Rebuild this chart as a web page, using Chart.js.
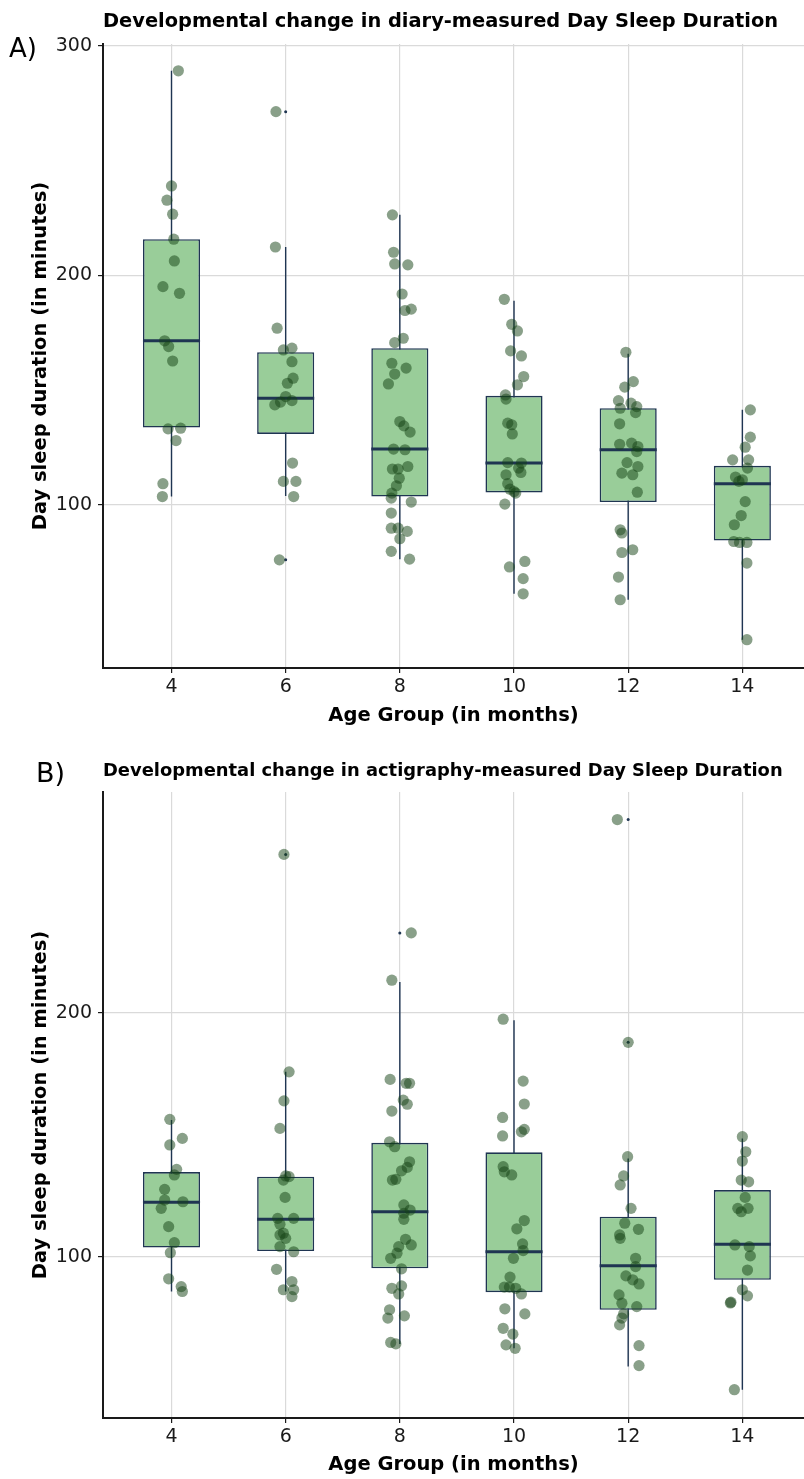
<!DOCTYPE html>
<html>
<head>
<meta charset="utf-8">
<title>Developmental change in Day Sleep Duration</title>
<script src="https://cdn.jsdelivr.net/npm/chart.js@4.4.0/dist/chart.umd.min.js"></script>
<style>
    body { margin: 0; background: #fff; overflow: hidden; }
    canvas { position: absolute; left: 0; }
    #panelA { top: 0; }
    #panelB { top: 730px; }
</style>
</head>
<body>
<canvas id="panelA" width="804" height="730"></canvas>
<canvas id="panelB" width="804" height="749"></canvas>
<script>
// Age groups (months) shown on the x axis
const ageGroups = [4, 6, 8, 10, 12, 14];

// ---- Panel A: diary-measured day sleep (minutes) ----
const diaryValues = [
    [289.2, 239.0, 232.8, 226.7, 215.8, 206.3, 195.1, 192.2, 171.5, 169.0, 162.7, 133.1, 133.4, 128.0, 109.2, 103.6],
    [271.4, 212.4, 177.0, 167.5, 168.3, 162.4, 155.2, 153.0, 147.2, 143.6, 144.8, 145.4, 118.2, 110.2, 110.2, 103.6, 76.0],
    [226.4, 210.1, 205.0, 204.6, 191.9, 184.7, 185.3, 172.6, 170.7, 161.7, 159.6, 157.0, 152.7, 136.3, 134.4, 131.7, 124.3,
     124.0, 115.6, 115.6, 116.7, 111.6, 108.3, 105.1, 102.9, 101.2, 96.4, 89.8, 89.8, 88.4, 85.2, 79.7, 76.3],
    [189.6, 178.7, 175.8, 167.1, 164.9, 155.9, 152.3, 147.9, 146.1, 135.6, 134.9, 130.9, 118.4, 118.2, 116.0, 114.1, 113.1,
     109.2, 106.8, 105.8, 105.1, 100.3, 72.9, 75.3, 67.8, 61.2],
    [166.5, 153.7, 151.3, 145.4, 144.3, 142.1, 142.8, 140.2, 135.3, 126.4, 126.9, 125.4, 123.2, 118.4, 116.7, 113.8, 113.1,
     105.5, 89.1, 87.7, 80.4, 79.2, 68.5, 58.6],
    [141.4, 129.5, 125.1, 119.6, 119.6, 116.0, 112.1, 110.9, 110.2, 101.4, 95.3, 91.3, 84.0, 83.6, 83.6, 74.6, 41.2]
];
// horizontal jitter of each point (age units)
const diaryJitter = [
    [0.12, 0, -0.08, 0.02, 0.04, 0.05, -0.15, 0.14, -0.12, -0.05, 0.02, -0.06, 0.16, 0.08, -0.15, -0.16],
    [-0.17, -0.18, -0.15, -0.04, 0.11, 0.11, 0.13, 0.03, 0, -0.19, -0.09, 0.11, 0.12, -0.04, 0.18, 0.14, -0.11],
    [-0.13, -0.11, -0.09, 0.14, 0.04, 0.09, 0.2, 0.06, -0.09, -0.14, 0.11, -0.09, -0.2, 0, 0.07, 0.18, -0.11,
     0.09, -0.13, -0.03, 0.14, -0.01, -0.06, -0.14, -0.15, 0.2, -0.15, -0.15, -0.03, 0.13, 0, -0.15, 0.17],
    [-0.17, -0.04, 0.06, -0.06, 0.13, 0.17, 0.06, -0.15, -0.14, -0.11, -0.04, -0.03, -0.11, 0.13, 0.08, 0.12, -0.14,
     -0.11, -0.07, 0, 0.03, -0.16, -0.08, 0.19, 0.16, 0.16],
    [-0.04, 0.09, -0.06, -0.17, 0.05, -0.14, 0.15, 0.13, -0.15, -0.15, 0.06, 0.17, 0.15, -0.02, 0.17, -0.11, 0.08,
     0.16, -0.14, -0.11, 0.08, -0.11, -0.17, -0.14],
    [0.14, 0.14, 0.05, -0.17, 0.11, 0.09, -0.12, 0, -0.06, 0.05, -0.02, -0.14, -0.15, -0.05, 0.08, 0.08, 0.08]
];
const diaryQ1 = [133.7, 130.9, 103.6, 105.4, 101.2, 84.4];
const diaryMedian = [171.5, 146.5, 124.3, 118.2, 124.0, 109.2];
const diaryQ3 = [215.8, 166.5, 168.3, 147.5, 142.1, 117.0];
const diaryLow = [103.6, 103.8, 76.3, 61.2, 58.6, 41.2];
const diaryHigh = [289.2, 212.4, 226.4, 189.0, 165.8, 141.4];
const diaryOutlierAges = [6, 6];
const diaryOutlierValues = [271.4, 76.0];
const diaryYTicks = [100, 200, 300];

// ---- Panel B: actigraphy-measured day sleep (minutes) ----
const actiValues = [
    [156.3, 148.5, 145.8, 135.8, 133.5, 127.6, 123.2, 122.5, 119.8, 112.3, 105.7, 101.6, 90.9, 87.7, 85.7],
    [265.0, 175.8, 163.9, 152.6, 133.1, 132.8, 131.4, 124.3, 115.7, 115.7, 113.3, 109.6, 108.9, 107.5, 104.1, 102.0,
     94.8, 89.8, 86.4, 86.4, 83.6],
    [232.8, 213.4, 172.7, 171.1, 171.1, 164.2, 162.5, 159.7, 147.1, 145.1, 138.9, 136.6, 135.2, 131.7, 131.4, 121.2,
     119.1, 117.8, 115.3, 107.1, 104.8, 104.1, 101.4, 99.3, 95.0, 87.0, 88.0, 84.7, 78.2, 74.8, 75.7, 64.8, 64.2],
    [197.4, 172.0, 162.6, 157.1, 152.2, 151.2, 149.5, 136.9, 134.8, 133.5, 114.8, 111.4, 105.2, 102.5, 99.3, 91.6,
     87.5, 87.5, 87.0, 84.7, 78.6, 76.5, 70.6, 68.2, 63.8, 62.4],
    [279.3, 187.9, 141.0, 133.1, 129.4, 119.8, 113.7, 111.2, 108.9, 107.5, 99.3, 95.9, 92.1, 90.5, 88.8, 84.3,
     80.9, 79.5, 76.5, 74.8, 72.0, 63.5, 55.3],
    [149.2, 143.0, 139.2, 131.4, 130.7, 124.3, 119.8, 119.8, 118.4, 104.8, 104.1, 100.3, 94.5, 86.4, 83.9, 81.3, 81.0, 45.4]
];
const actiJitter = [
    [-0.03, 0.19, -0.03, 0.09, 0.05, -0.12, -0.12, 0.2, -0.18, -0.05, 0.05, -0.02, -0.05, 0.17, 0.19],
    [-0.03, 0.06, -0.03, -0.1, 0, 0.06, -0.04, -0.01, -0.14, 0.14, -0.1, -0.04, -0.1, 0, -0.1, 0.14,
     -0.16, 0.11, -0.04, 0.14, 0.11],
    [0.2, -0.14, -0.17, 0.11, 0.17, 0.06, 0.13, -0.14, -0.18, -0.09, 0.17, 0.13, 0.03, -0.07, -0.13, 0.07,
     0.18, 0.07, 0.07, 0.1, 0.2, -0.02, -0.05, -0.16, 0.03, -0.14, 0.03, -0.02, -0.18, -0.21, 0.08, -0.16, -0.07],
    [-0.19, 0.16, 0.18, -0.2, 0.18, 0.13, -0.2, -0.19, -0.17, -0.04, 0.18, 0.05, 0.15, 0.16, -0.01, -0.07,
     -0.17, -0.08, 0.03, 0.13, -0.16, 0.19, -0.19, -0.02, -0.14, 0.02],
    [-0.19, 0, -0.01, -0.08, -0.14, 0.05, -0.06, 0.18, -0.15, -0.14, 0.13, 0.13, -0.04, 0.08, 0.19, -0.16,
     -0.11, 0.15, -0.08, -0.11, -0.15, 0.19, 0.19],
    [0, 0.06, 0, -0.02, 0.11, 0.05, -0.08, 0.1, -0.02, -0.13, 0.12, 0.14, 0.09, 0, 0.09, -0.2, -0.21, -0.14]
];
const actiQ1 = [103.7, 102.3, 95.2, 85.4, 78.2, 90.5];
const actiMedian = [122.3, 115.3, 118.4, 102.0, 96.3, 105.1];
const actiQ3 = [134.7, 132.8, 146.7, 142.8, 116.4, 127.3];
const actiLow = [85.7, 85.7, 64.2, 62.4, 54.9, 45.4];
const actiHigh = [156.0, 175.8, 212.7, 197.0, 140.3, 148.5];
const actiOutlierAges = [6, 8, 12, 12];
const actiOutlierValues = [265.0, 232.8, 279.3, 187.9];
const actiYTicks = [100, 200];

// styling
const FONT = "'DejaVu Sans', sans-serif";
const boxFill = '#99cd99';
const boxLine = '#1f3552';
const pointColor = 'rgba(20, 66, 20, 0.5)';
const gridColor = '#dadada';
const axisColor = '#1a1a1a';
const boxHalfWidth = 0.5;

Chart.defaults.font.family = FONT;

// draws the "A)" / "B)" panel letter
const panelLetter = {
    id: 'panelLetter',
    afterDraw(chart, args, opts) {
        const ctx = chart.ctx;
        ctx.save();
        ctx.font = `${opts.size}px ${FONT}`;
        ctx.fillStyle = '#000';
        ctx.textBaseline = 'alphabetic';
        ctx.fillText(opts.text, opts.x, opts.y);
        ctx.restore();
    }
};

function buildPanel(canvasId, d) {
    const points = [];
    d.values.forEach((vals, g) => {
        vals.forEach((v, i) => points.push({ x: ageGroups[g] + d.jitter[g][i], y: v }));
    });

    const boxes = ageGroups.map((a, g) => ({ x: a, y: [d.q1[g], d.q3[g]] }));

    const whiskers = [];
    const medians = [];
    ageGroups.forEach((a, g) => {
        whiskers.push({ x: a, y: d.low[g] }, { x: a, y: d.high[g] }, { x: a, y: null });
        medians.push({ x: a - boxHalfWidth, y: d.median[g] }, { x: a + boxHalfWidth, y: d.median[g] }, { x: a, y: null });
    });

    const outliers = d.outlierAges.map((a, i) => ({ x: a, y: d.outlierValues[i] }));

    return new Chart(document.getElementById(canvasId), {
        type: 'scatter',
        data: {
            datasets: [
                {
                    label: 'Jittered observations',
                    data: points,
                    backgroundColor: pointColor,
                    borderWidth: 0,
                    pointRadius: 5.6,
                    order: 0
                },
                {
                    label: 'Outliers',
                    data: outliers,
                    backgroundColor: boxLine,
                    borderWidth: 0,
                    pointRadius: 1.5,
                    order: 1
                },
                {
                    type: 'line',
                    label: 'Median',
                    data: medians,
                    borderColor: boxLine,
                    borderWidth: 3,
                    borderCapStyle: 'butt',
                    pointRadius: 0,
                    spanGaps: false,
                    order: 2
                },
                {
                    type: 'bar',
                    label: 'IQR',
                    data: boxes,
                    backgroundColor: boxFill,
                    borderColor: boxLine,
                    borderWidth: 1.6,
                    borderSkipped: false,
                    categoryPercentage: 1,
                    barPercentage: 0.5,
                    order: 3
                },
                {
                    type: 'line',
                    label: 'Whiskers',
                    data: whiskers,
                    borderColor: boxLine,
                    borderWidth: 1.4,
                    pointRadius: 0,
                    spanGaps: false,
                    order: 4
                }
            ]
        },
        options: {
            responsive: false,
            animation: false,
            events: [],
            layout: { autoPadding: false, padding: 0 },
            plugins: {
                legend: { display: false },
                tooltip: { enabled: false },
                title: {
                    display: true,
                    text: d.title,
                    align: 'start',
                    fullSize: false,
                    color: '#000',
                    font: { size: d.titleSize, weight: 'bold', lineHeight: 1.2 },
                    padding: d.titlePadding
                },
                panelLetter: d.letter
            },
            scales: {
                x: {
                    type: 'linear',
                    offset: false,
                    min: 2.8,
                    max: 15.08,
                    afterBuildTicks: s => { s.ticks = ageGroups.map(v => ({ value: v })); },
                    afterFit: s => { s.height = d.xAxisHeight; },
                    grid: { offset: false, color: gridColor, lineWidth: 1.2, tickColor: axisColor, tickLength: 5, tickWidth: 1.2 },
                    border: { color: axisColor, width: 2 },
                    ticks: { color: axisColor, font: { size: 19 }, padding: 3, maxRotation: 0, autoSkip: false },
                    title: {
                        display: true,
                        text: 'Age Group (in months)',
                        color: '#000',
                        font: { size: 19.5, weight: 'bold', lineHeight: 1 },
                        padding: { top: 0, bottom: 4 }
                    }
                },
                y: {
                    type: 'linear',
                    min: d.yMin,
                    max: d.yMax,
                    afterBuildTicks: s => { s.ticks = d.yTicks.map(v => ({ value: v })); },
                    afterFit: s => { s.width = 103; },
                    grid: { color: gridColor, lineWidth: 1.2, tickColor: axisColor, tickLength: 5, tickWidth: 1.2 },
                    border: { color: axisColor, width: 2 },
                    ticks: { color: axisColor, font: { size: 19 }, padding: 6, autoSkip: false },
                    title: {
                        display: true,
                        text: 'Day sleep duration (in minutes)',
                        color: '#000',
                        font: { size: 19.5, weight: 'bold', lineHeight: 1 },
                        padding: { top: 31, bottom: 0 }
                    }
                }
            }
        },
        plugins: [panelLetter]
    });
}

buildPanel('panelA', {
    title: 'Developmental change in diary-measured Day Sleep Duration',
    titleSize: 19.4,
    titlePadding: { top: 10.6, bottom: 10.1 },
    letter: { text: 'A)', x: 9, y: 57, size: 26 },
    values: diaryValues, jitter: diaryJitter,
    q1: diaryQ1, median: diaryMedian, q3: diaryQ3, low: diaryLow, high: diaryHigh,
    outlierAges: diaryOutlierAges, outlierValues: diaryOutlierValues,
    yTicks: diaryYTicks, yMin: 28.85, yMax: 300.9,
    xAxisHeight: 62
});

buildPanel('panelB', {
    title: 'Developmental change in actigraphy-measured Day Sleep Duration',
    titleSize: 17.9,
    titlePadding: { top: 31, bottom: 9.5 },
    letter: { text: 'B)', x: 36, y: 52, size: 27 },
    values: actiValues, jitter: actiJitter,
    q1: actiQ1, median: actiMedian, q3: actiQ3, low: actiLow, high: actiHigh,
    outlierAges: actiOutlierAges, outlierValues: actiOutlierValues,
    yTicks: actiYTicks, yMin: 33.8, yMax: 290.6,
    xAxisHeight: 61
});
</script>
</body>
</html>
